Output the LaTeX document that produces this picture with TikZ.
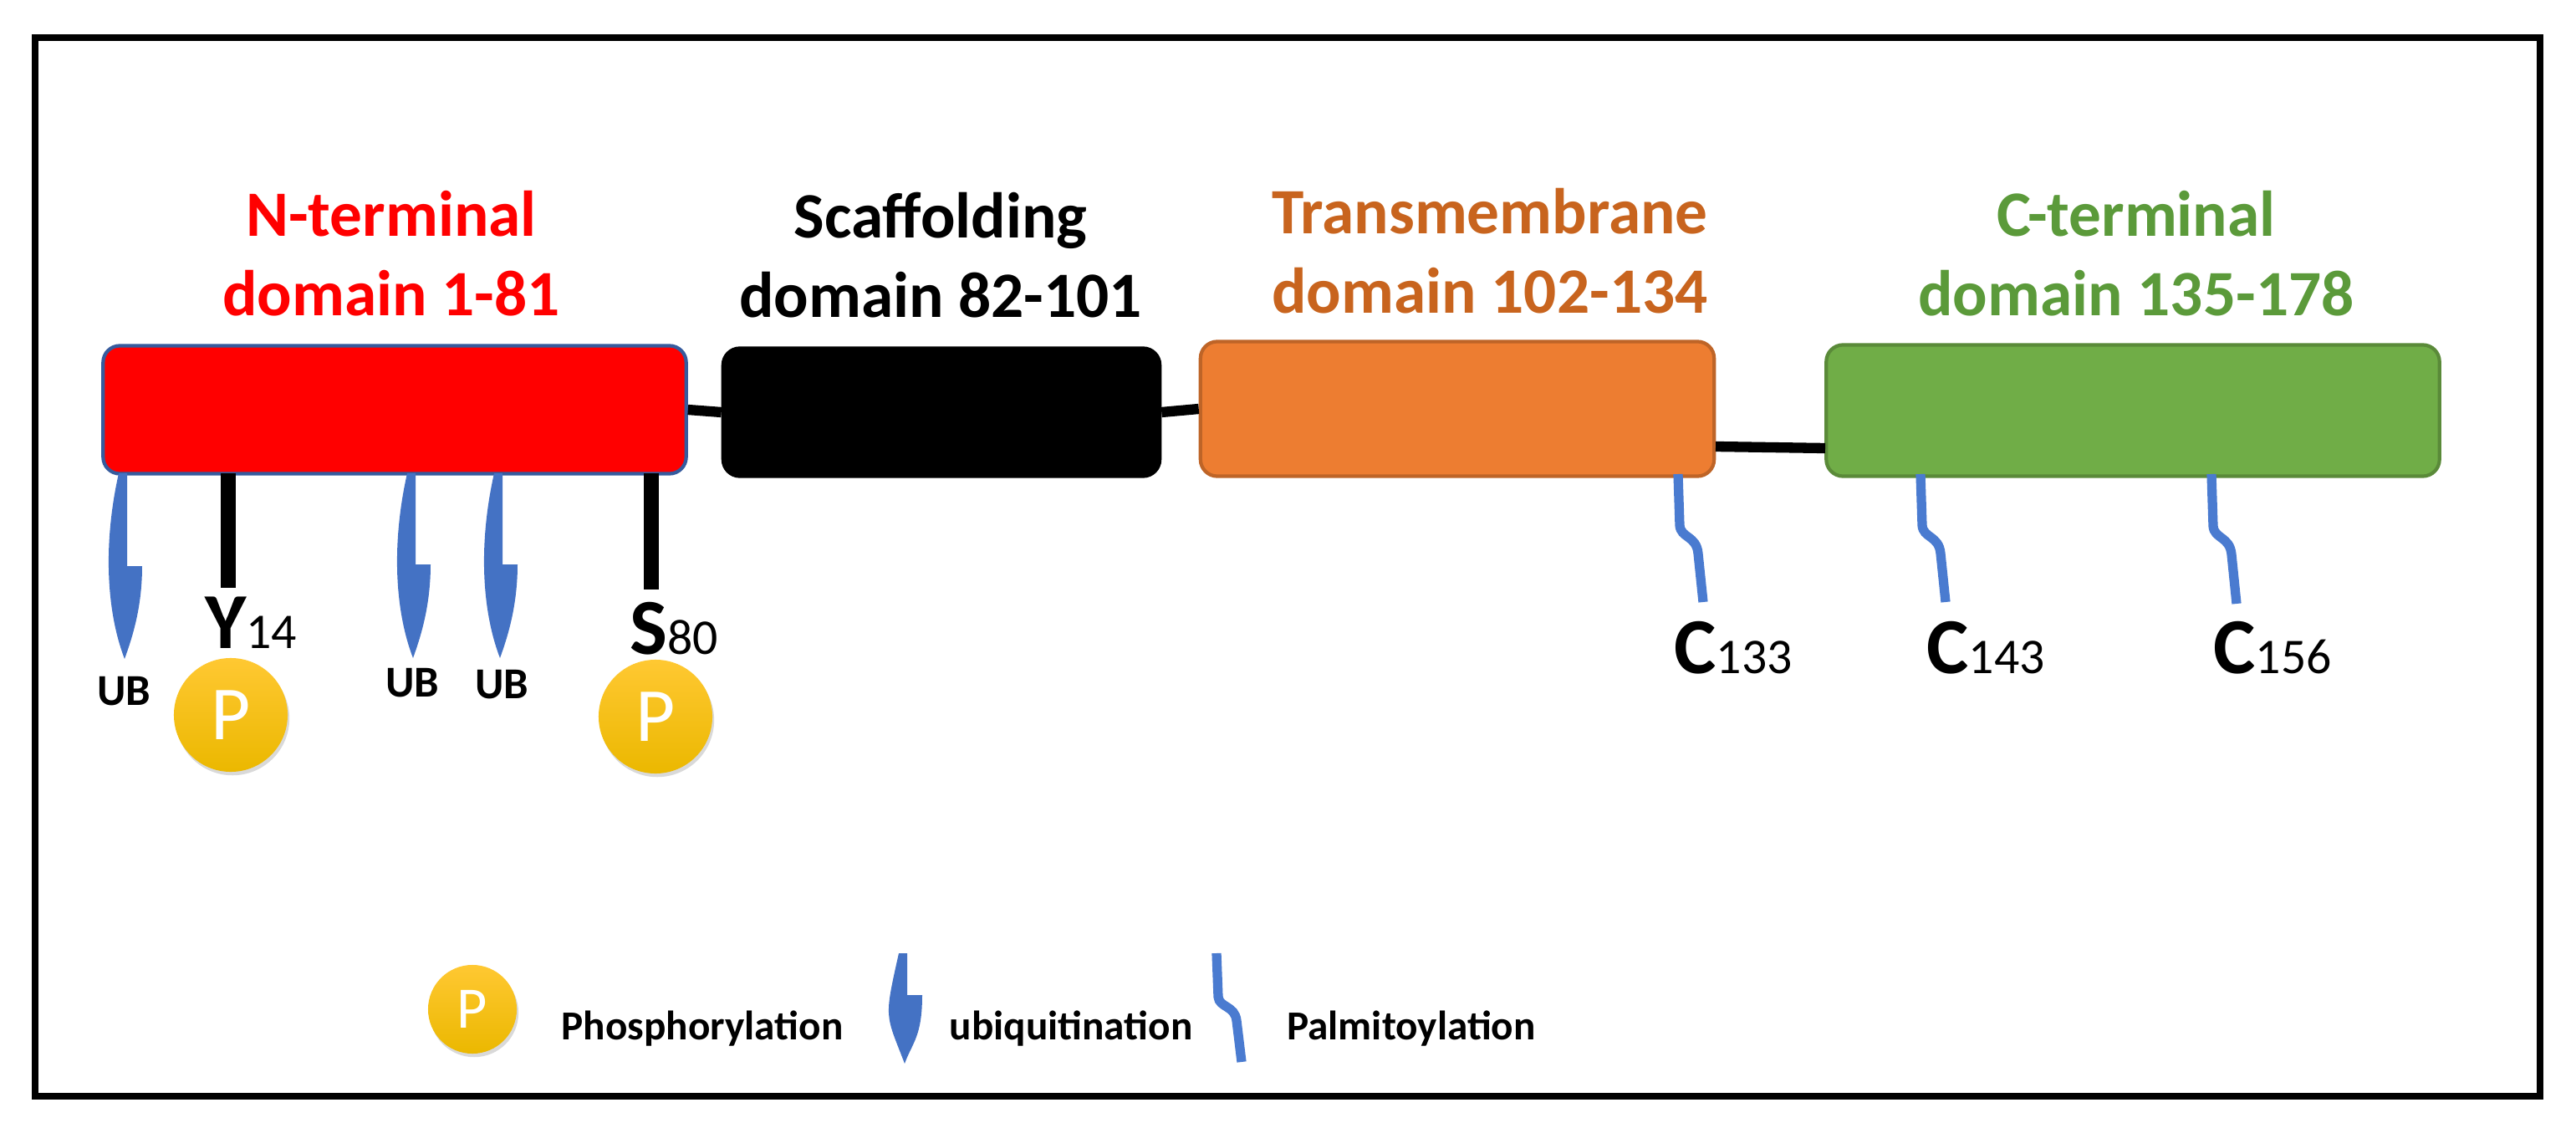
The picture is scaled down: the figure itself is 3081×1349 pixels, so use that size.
\documentclass[tikz,border=0pt]{standalone}
\usepackage{fontspec}
\setmainfont{Carlito}
\usetikzlibrary{shadows}
\definecolor{nred}{HTML}{FF0000}
\definecolor{ored}{HTML}{ED7D31}
\definecolor{otxt}{HTML}{C8641E}
\definecolor{gbox}{HTML}{70AD47}
\definecolor{gtxt}{HTML}{5B9A3A}
\definecolor{ubb}{HTML}{4472C4}
\definecolor{palm}{HTML}{4A7BD0}
\definecolor{ptop}{HTML}{FFC832}
\definecolor{pbot}{HTML}{EBB800}
\tikzset{
 dom/.style={draw, rounded corners=0.2cm, line width=1.2pt},
 ttl/.style={font=\fontsize{22}{27}\selectfont\bfseries, align=center},
 link/.style={line width=3.5pt, black},
 stick/.style={line width=5pt, black},
 palmline/.style={line width=3.2pt, palm},
 ubfill/.style={fill=ubb, draw=none},
 pball/.style={circle, minimum size=1.36cm, inner sep=0pt, top color=ptop, bottom color=pbot, shading angle=0, drop shadow={opacity=0.3, shadow xshift=0.6pt, shadow yshift=-1.2pt}, text=white, font=\fontsize{26}{26}\selectfont},
 lgball/.style={pball, minimum size=1.06cm, font=\fontsize{20}{20}\selectfont},
 ublab/.style={font=\fontsize{15}{18}\selectfont\bfseries},
 lgtxt/.style={font=\fontsize{14}{17}\selectfont\bfseries}
}
\newcommand\myub[4]{% x, top, notch, tip
 \fill[ubfill] (#1+4,#2) -- (#1+4,#3) -- (#1+22,#3) .. controls (#1+22,#3+50) and (#1+10,#4-25) .. (#1+1,#4) .. controls (#1-22,#4-60) and (#1-24,#2+80) .. (#1-6,#2) -- cycle;}
\newcommand\mypalm[3]{% x, top, bottom
 \draw[palmline] (#1,#2) -- (#1+2,#2+0.40*#3-0.40*#2) .. controls (#1+3,#2+0.50*#3-0.50*#2) and (#1+22,#2+0.48*#3-0.48*#2) .. (#1+24,#2+0.62*#3-0.62*#2) -- (#1+30,#3);}
\newcommand\resid[2]{{\fontsize{27}{30}\selectfont\bfseries #1}{\fontsize{17}{20}\selectfont #2}}
\begin{document}
\begin{tikzpicture}[x=0.01cm,y=-0.01cm]
\useasboundingbox (0,0) rectangle (3081,1349);
\draw[line width=2.2pt] (42,45) rectangle (3038,1311);
% titles
\node[ttl, text=nred] (t1) at (468,303) {N-terminal\\domain 1-81};
\node[ttl] (t2) at (1125,305) {Scaffolding\\domain 82-101};
\node[ttl, text=otxt] (t3) at (1782,300) {Transmembrane\\domain 102-134};
\node[ttl, text=gtxt] (t4) at (2555,303) {C-terminal\\domain 135-178};
% domains
\node[dom, fill=nred, draw=ubb!80!black, minimum width=6.97cm, minimum height=1.53cm] (nd) at (472,490) {};
\node[dom, fill=black, draw=black, minimum width=5.22cm, minimum height=1.53cm] (sd) at (1126,493) {};
\node[dom, fill=ored, draw=ored!80!black, minimum width=6.14cm, minimum height=1.61cm] (td) at (1743,489) {};
\node[dom, fill=gbox, draw=gbox!80!black, minimum width=7.33cm, minimum height=1.57cm] (cd) at (2551,491) {};
\coordinate (l3a) at (2052,534); \coordinate (l3b) at (2183,536);
\draw[link] (nd.east) -- (sd.west);
\draw[link] (sd.east) -- (td.west);
\draw[link] (l3a) -- (l3b);
% N-terminal modifications
\myub{148}{566}{677}{788}
\myub{493}{566}{675}{787}
\myub{597}{566}{675}{787}
\coordinate (ys) at (273,566); \coordinate (ye) at (273,703);
\coordinate (ss) at (779,566); \coordinate (se) at (779,705);
\draw[stick] (ys) -- (ye);
\draw[stick] (ss) -- (se);
\node (y14) at (300,745) {\resid{Y}{14}};
\node (s80) at (806,752) {\resid{S}{80}};
\node[ublab] (ub1) at (148,827) {UB};
\node[ublab] (ub2) at (493,817) {UB};
\node[ublab] (ub3) at (600,819) {UB};
\node[pball] (p1) at (276,855) {P};
\node[pball] (p2) at (784,857) {P};
% palmitoylation
\mypalm{2007}{567}{720}
\mypalm{2297}{567}{720}
\mypalm{2645}{567}{722}
\node (c133) at (2073,775) {\resid{C}{133}};
\node (c143) at (2375,775) {\resid{C}{143}};
\node (c156) at (2718,775) {\resid{C}{156}};
% legend
\node[lgball] (lp) at (565,1207) {P};
\node[lgtxt] (lpt) at (840,1230) {Phosphorylation};
\myub{1081}{1140}{1190}{1272}
\node[lgtxt] (lut) at (1281,1230) {ubiquitination};
\mypalm{1455}{1140}{1270}
\node[lgtxt] (lmt) at (1688,1230) {Palmitoylation};
\end{tikzpicture}
\end{document}
